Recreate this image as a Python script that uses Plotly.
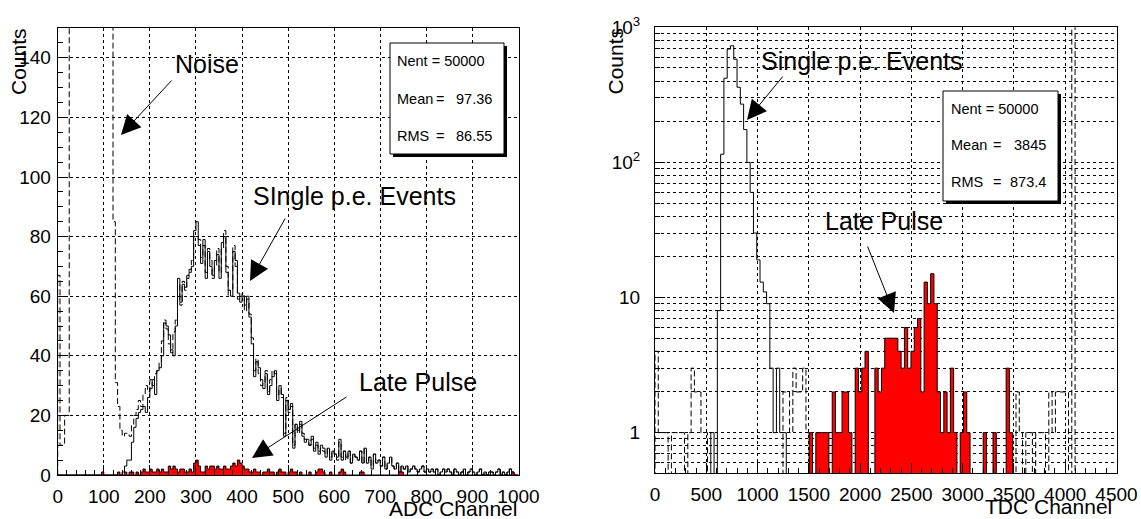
import math
import plotly.graph_objects as go

W, H = 1141, 519

# ---------------- ADC spectrum: 5-channel bins from 0 to 1000 ----------------
adc_bin_width = 5
# all events (dashed): pedestal/noise block plus the photo-electron spectrum
adc_all = [
    67, 10, 10, 20, 20, 2150, 2380, 2610, 2790, 2930, 3010, 3040, 2990, 2870, 2700, 2480, 2230, 1960, 1690, 1420,
    1180, 960, 540, 260, 85, 31, 23, 15, 13, 14, 14, 13, 17, 20, 22, 25, 23, 27, 30, 28,
    32, 30, 34, 35, 38, 45, 52, 49, 44, 41, 48, 52, 64, 57, 65, 62, 67, 69, 72, 80,
    80, 79, 73, 77, 68, 76, 72, 66, 70, 76, 68, 76, 82, 70, 60, 62, 77, 70, 59, 60,
    61, 55, 59, 54, 46, 35, 39, 34, 30, 31, 35, 28, 32, 35, 34, 27, 29, 26, 14, 26,
    21, 23, 10, 17, 14, 17, 14, 12, 11, 10, 12, 9, 10, 8, 9, 8, 7, 9, 6, 8,
    7, 5, 11, 6, 8, 5, 8, 4, 7, 6, 5, 8, 4, 9, 4, 6, 3, 7, 4, 5,
    3, 6, 2, 4, 6, 3, 2, 4, 1, 3, 2, 3, 1, 2, 3, 2, 1, 2, 3, 1,
    2, 1, 2, 1, 2, 0, 1, 2, 1, 2, 1, 0, 2, 1, 0, 1, 2, 0, 1, 2,
    1, 0, 1, 2, 0, 1, 0, 1, 1, 0, 1, 2, 0, 1, 0, 1, 2, 1, 0, 0,
]
# single photo-electron events (solid)
adc_single = [
    0, 0, 0, 0, 0, 0, 0, 0, 0, 0, 0, 0, 0, 0, 0, 0, 0, 0, 0, 0,
    0, 0, 0, 0, 0, 0, 0, 0, 1, 3, 5, 5, 11, 16, 19, 21, 22, 23, 21, 26,
    29, 32, 27, 35, 36, 40, 51, 50, 47, 42, 40, 50, 66, 58, 64, 63, 66, 68, 70, 82,
    85, 77, 71, 79, 66, 75, 70, 67, 72, 74, 66, 78, 80, 68, 62, 60, 75, 72, 61, 58,
    60, 57, 60, 53, 44, 33, 38, 36, 32, 29, 34, 27, 30, 33, 35, 25, 30, 27, 13, 25,
    22, 24, 9, 17, 15, 18, 13, 11, 12, 10, 13, 8, 11, 7, 10, 9, 6, 9, 5, 8,
    7, 6, 12, 5, 8, 6, 8, 4, 7, 6, 5, 8, 4, 9, 4, 6, 2, 7, 4, 5,
    3, 6, 2, 4, 6, 3, 2, 4, 1, 3, 2, 3, 1, 2, 3, 2, 1, 2, 3, 1,
    2, 1, 2, 1, 2, 0, 1, 2, 1, 2, 1, 0, 2, 1, 0, 1, 2, 0, 1, 2,
    1, 0, 1, 2, 0, 1, 0, 1, 1, 0, 1, 2, 0, 1, 0, 1, 2, 1, 0, 0,
]
# late pulses (filled red)
adc_late = [
    0, 0, 0, 0, 0, 0, 0, 0, 0, 0, 0, 0, 0, 0, 0, 0, 0, 0, 0, 1,
    0, 0, 0, 0, 0, 0, 1, 0, 0, 1, 0, 1, 1, 0, 1, 0, 1, 2, 1, 1,
    2, 1, 1, 2, 1, 2, 1, 1, 3, 2, 3, 2, 1, 2, 2, 1, 1, 2, 1, 4,
    5, 3, 1, 1, 3, 2, 3, 3, 2, 3, 2, 2, 3, 2, 2, 3, 4, 3, 5, 4,
    3, 2, 2, 1, 1, 2, 1, 1, 0, 1, 1, 2, 1, 1, 0, 1, 2, 1, 1, 0,
    1, 2, 1, 1, 0, 1, 0, 0, 0, 1, 0, 0, 1, 2, 2, 1, 0, 0, 1, 0,
    0, 0, 1, 2, 1, 0, 0, 0, 0, 0, 0, 1, 1, 0, 0, 0, 0, 0, 0, 0,
    0, 0, 0, 0, 0, 0, 0, 0, 1, 1, 0, 0, 0, 0, 0, 0, 0, 0, 0, 0,
    0, 0, 0, 0, 0, 0, 0, 0, 0, 0, 0, 0, 0, 0, 0, 0, 0, 0, 0, 0,
    0, 0, 0, 0, 0, 0, 0, 0, 0, 0, 0, 0, 0, 0, 0, 0, 0, 1, 0, 0,
]

# ---------------- TDC spectrum: 32-channel bins from 0 to 4096 ----------------
tdc_bin_width = 32
# events outside the main peaks (dashed), overflow pile-up in the last bin
tdc_other = [
    4, 1, 1, 1, 0, 1, 1, 1, 1, 0, 1, 3, 2, 2, 1, 1,
    0, 0, 0, 0, 0, 0, 0, 0, 0, 0, 0, 0, 0, 0, 0, 0,
    0, 0, 0, 0, 0, 0, 0, 2, 2, 1, 3, 2, 2, 3, 1, 0,
    0, 0, 0, 0, 0, 0, 0, 0, 0, 0, 0, 0, 0, 0, 0, 0,
    0, 0, 0, 0, 0, 0, 0, 0, 0, 0, 0, 0, 0, 0, 0, 0,
    0, 0, 0, 0, 0, 0, 0, 0, 0, 0, 0, 0, 0, 0, 0, 0,
    0, 0, 0, 0, 0, 0, 0, 0, 0, 0, 0, 0, 0, 0, 2, 1,
    0, 1, 1, 0, 1, 1, 1, 0, 2, 1, 2, 2, 2, 2, 0, 46500,
]
# single photo-electron events (solid)
tdc_single = [
    0, 0, 0, 0, 0, 0, 0, 0, 0, 0, 0, 0, 0, 0, 0, 0,
    0, 1, 0, 8, 115, 420, 690, 730, 580, 360, 270, 175, 100, 60, 30, 19,
    13, 11, 9, 3, 1, 3, 1, 1, 0, 0, 0, 0, 0, 0, 0, 0,
    0, 0, 0, 0, 0, 0, 0, 0, 0, 0, 0, 0, 0, 0, 0, 0,
    0, 0, 0, 0, 0, 0, 0, 0, 0, 0, 0, 0, 0, 0, 0, 0,
    0, 0, 0, 0, 0, 0, 0, 0, 0, 0, 0, 0, 0, 0, 0, 0,
    0, 0, 0, 0, 0, 0, 0, 0, 0, 0, 0, 0, 0, 0, 0, 0,
    0, 0, 0, 0, 0, 0, 0, 0, 0, 0, 0, 0, 0, 0, 0, 0,
]
# late pulses (filled red)
tdc_late = [
    0, 0, 0, 0, 0, 0, 0, 0, 0, 0, 0, 0, 0, 0, 0, 0,
    0, 0, 0, 0, 0, 0, 0, 0, 0, 0, 0, 0, 0, 0, 0, 0,
    0, 0, 0, 0, 0, 0, 0, 0, 0, 0, 0, 0, 0, 0, 0, 1,
    0, 1, 1, 1, 1, 0, 2, 1, 1, 2, 2, 1, 0, 3, 2, 3,
    4, 0, 0, 3, 2, 3, 5, 5, 5, 5, 4, 3, 6, 3, 4, 6,
    7, 2, 13, 9, 15, 9, 2, 1, 2, 1, 3, 1, 0, 1, 2, 1,
    0, 0, 0, 0, 1, 0, 0, 1, 0, 0, 0, 3, 1, 0, 0, 0,
    0, 0, 0, 0, 0, 0, 0, 0, 0, 0, 0, 0, 0, 0, 0, 0,
]

adc_ticks = list(range(0, 1001, 100))
adc_count_ticks = list(range(0, 141, 20))
tdc_ticks = list(range(0, 4501, 500))
tdc_count_ticks = [1, 10, 100, 1000]
tdc_count_labels = ["1", "10", "10<sup>2</sup>", "10<sup>3</sup>"]
tdc_minor_ticks = [0.6, 0.7, 0.8, 0.9] + [m * d for d in (1, 10, 100) for m in range(2, 10)]

adc_stats = [("Nent = 50000", None), ("Mean", "97.36"), ("RMS", "86.55")]
tdc_stats = [("Nent = 50000", None), ("Mean", "3845"), ("RMS", "873.4")]

FONT = "Liberation Sans, Arial, Helvetica, sans-serif"


def px(xp):
    return xp / W


def py(yp):
    return 1 - yp / H


def step_outline(width, counts, floor):
    """Bin edges / contents as an hv step path closed down to the floor."""
    xs, ys = [0.0], [floor]
    for i, c in enumerate(counts):
        xs.append(i * width)
        ys.append(c if c > floor else floor)
    xs.append(len(counts) * width)
    ys.append(floor)
    return xs, ys


fig = go.Figure()

# ---- left: ADC ----
x, y = step_outline(adc_bin_width, adc_all, 0)
fig.add_trace(go.Scatter(x=x, y=y, mode="lines", line=dict(shape="hv", color="black", width=1, dash="6px,3px"),
                         xaxis="x", yaxis="y", hoverinfo="skip"))
x, y = step_outline(adc_bin_width, adc_single, 0)
fig.add_trace(go.Scatter(x=x, y=y, mode="lines", line=dict(shape="hv", color="black", width=1),
                         xaxis="x", yaxis="y", hoverinfo="skip"))
x, y = step_outline(adc_bin_width, adc_late, 0)
fig.add_trace(go.Scatter(x=x, y=y, mode="lines", line=dict(shape="hv", color="black", width=1),
                         fill="toself", fillcolor="#ff0000", xaxis="x", yaxis="y", hoverinfo="skip"))

# ---- right: TDC (log) ----
LOG_FLOOR = 0.01
x, y = step_outline(tdc_bin_width, tdc_other, LOG_FLOOR)
fig.add_trace(go.Scatter(x=x, y=y, mode="lines", line=dict(shape="hv", color="black", width=1, dash="6px,3px"),
                         xaxis="x2", yaxis="y2", hoverinfo="skip"))
x, y = step_outline(tdc_bin_width, tdc_single, LOG_FLOOR)
fig.add_trace(go.Scatter(x=x, y=y, mode="lines", line=dict(shape="hv", color="black", width=1),
                         xaxis="x2", yaxis="y2", hoverinfo="skip"))
x, y = step_outline(tdc_bin_width, tdc_late, LOG_FLOOR)
fig.add_trace(go.Scatter(x=x, y=y, mode="lines", line=dict(shape="hv", color="black", width=1),
                         fill="toself", fillcolor="#ff0000", xaxis="x2", yaxis="y2", hoverinfo="skip"))

tickfont = dict(family=FONT, size=19, color="black")
common = dict(showline=True, linecolor="black", linewidth=1, mirror=True, ticks="inside",
              tickcolor="black", tickwidth=1, zeroline=False, showgrid=True, gridcolor="black",
              gridwidth=1, griddash="dot", tickfont=tickfont, automargin=False)

fig.update_layout(
    width=W, height=H, margin=dict(l=0, r=0, t=0, b=0, autoexpand=False),
    paper_bgcolor="white", plot_bgcolor="white", showlegend=False,
    font=dict(family=FONT, color="black"),
    xaxis=dict(domain=[px(57.7), px(518.5)], range=[0, 1000], anchor="y", tickmode="array",
               tickvals=adc_ticks, ticklen=10, ticklabelstandoff=4,
               minor=dict(dtick=20, tick0=0, ticks="inside", ticklen=5, tickcolor="black", showgrid=False),
               **common),
    yaxis=dict(domain=[py(475), py(28)], range=[0, 150], anchor="x", tickmode="array",
               tickvals=adc_count_ticks, ticklen=10, ticklabelstandoff=2,
               minor=dict(dtick=5, tick0=0, ticks="inside", ticklen=5, tickcolor="black", showgrid=False),
               **common),
    xaxis2=dict(domain=[px(655), px(1116.5)], range=[0, 4500], anchor="y2", tickmode="array",
                tickvals=tdc_ticks, ticklen=10, ticklabelstandoff=4,
                minor=dict(dtick=100, tick0=0, ticks="inside", ticklen=5, tickcolor="black", showgrid=False),
                **common),
    yaxis2=dict(domain=[py(473.3), py(27.3)], type="log", range=[math.log10(0.5), 3], anchor="x2",
                tickmode="array", tickvals=tdc_count_ticks, ticktext=tdc_count_labels, ticklen=10,
                ticklabelstandoff=10,
                minor=dict(tickmode="array", tickvals=tdc_minor_ticks, ticks="inside", ticklen=5,
                           tickcolor="black", showgrid=True, gridcolor="black", gridwidth=1, griddash="dot"),
                **common),
)

ann = []
shapes = []


def text(xp, yp, s, size, xanchor="left", angle=0):
    ann.append(dict(x=px(xp), y=py(yp), xref="paper", yref="paper", text=s, showarrow=False,
                    xanchor=xanchor, yanchor="middle", textangle=angle,
                    font=dict(family=FONT, size=size, color="black")))


def arrow(tail, tip):
    ann.append(dict(x=px(tip[0]), y=py(tip[1]), xref="paper", yref="paper", text="",
                    showarrow=True, ax=tail[0] - tip[0], ay=tail[1] - tip[1],
                    arrowhead=2, arrowsize=3.9, arrowwidth=1, arrowcolor="black", standoff=0))


# axis titles
text(19, 62, "Counts", 21, xanchor="center", angle=-90)
text(615.5, 61, "Counts", 21, xanchor="center", angle=-90)
text(518.5, 508, "ADC Channel", 21, xanchor="right")
text(1114, 506, "TDC Channel", 21, xanchor="right")

# labels with arrows
text(173, 64, "Noise", 25)
arrow((173, 79), (121, 135))
text(251, 196, "SIngle p.e. Events", 25)
arrow((286, 217), (250, 281))
text(357, 382, "Late Pulse", 25)
arrow((348, 396), (252, 458))
text(759, 61, "Single p.e. Events", 25)
arrow((784, 75), (747, 120))
text(823, 221, "Late Pulse", 25)
arrow((867, 245), (894, 313))


def stats_box(x0, y0, x1, y1, rows, lx, ex, vx, ys):
    shapes.append(dict(type="rect", xref="paper", yref="paper", x0=px(x0 + 3), x1=px(x1 + 3),
                       y0=py(y1 + 3), y1=py(y0 + 3), fillcolor="black", line=dict(width=0), layer="above"))
    shapes.append(dict(type="rect", xref="paper", yref="paper", x0=px(x0), x1=px(x1),
                       y0=py(y1), y1=py(y0), fillcolor="white", line=dict(color="black", width=1),
                       layer="above"))
    for (label, value), yy in zip(rows, ys):
        text(lx, yy, label, 14.5)
        if value is not None:
            text(ex, yy, "=", 14.5, xanchor="center")
            text(vx, yy, value, 14.5, xanchor="right")


stats_box(390, 43, 504, 154, adc_stats, 395, 440, 494, [61.5, 98.5, 135.5])
stats_box(943, 91, 1058, 201, tdc_stats, 949, 997, 1048, [108.5, 145, 182])

fig.update_layout(annotations=ann, shapes=shapes)
fig.write_html("out.html")
